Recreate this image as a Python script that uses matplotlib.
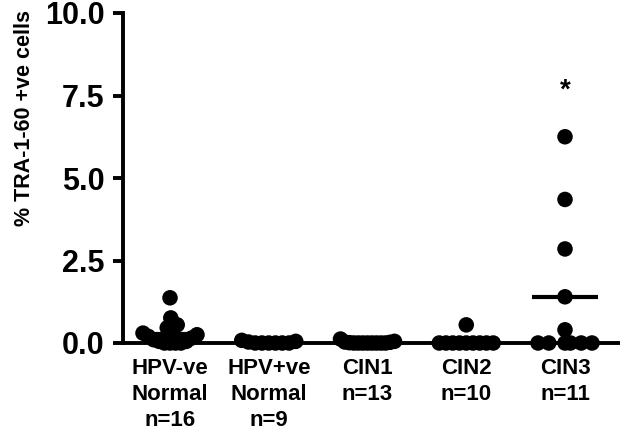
import numpy as np
import matplotlib
matplotlib.use('Agg')
import matplotlib.pyplot as plt

plt.rcParams['font.family'] = ['Liberation Sans', 'DejaVu Sans']

categories = ['HPV-ve\nNormal\nn=16', 'HPV+ve\nNormal\nn=9', 'CIN1\nn=13', 'CIN2\nn=10', 'CIN3\nn=11']
hpv_neg = [1.37, 0.76, 0.55, 0.46, 0.35, 0.30, 0.25, 0.20, 0.15, 0.10, 0.05, 0.05, 0.0, 0.0, 0.0, 0.0]
hpv_pos = [0.08, 0.05, 0.03, 0.0, 0.0, 0.0, 0.0, 0.0, 0.0]
cin1 = [0.12, 0.05, 0.03, 0.02, 0.01, 0.0, 0.0, 0.0, 0.0, 0.0, 0.0, 0.0, 0.0]
cin2 = [0.55, 0.0, 0.0, 0.0, 0.0, 0.0, 0.0, 0.0, 0.0, 0.0]
cin3 = [6.25, 4.35, 2.85, 1.40, 0.40, 0.0, 0.0, 0.0, 0.0, 0.0, 0.0]
groups = [hpv_neg, hpv_pos, cin1, cin2, cin3]
yticks = [0.0, 2.5, 5.0, 7.5, 10.0]
ylabel = '% TRA-1-60 +ve cells'
signif = {4: '*'}

W, H = 620, 446
fig = plt.figure(figsize=(W / 100, H / 100), dpi=100)
ax = fig.add_axes([123 / W, 103 / H, 497 / W, 330 / H])
xlim = (-0.476, 4.557)
ylim = (0, 10)
ax.set_xlim(*xlim)
ax.set_ylim(*ylim)

# pixel scale for swarm layout
px_x = 497 / (xlim[1] - xlim[0])
px_y = 330 / (ylim[1] - ylim[0])


def swarm(vals, d=13.0, maxhalf=27.0):
    vals = np.asarray(vals, float)
    order = np.argsort(vals, kind='stable')
    placed = []  # (xpix, ypix)
    offs = np.zeros(len(vals))
    for i in order:
        y = vals[i] * px_y
        cands = [0.0]
        for (xj, yj) in placed:
            dy = abs(y - yj)
            if dy < d:
                dx = np.sqrt(d * d - dy * dy)
                cands += [xj + dx + 1e-6, xj - dx - 1e-6]
        cands = sorted(cands, key=lambda c: (abs(c), -c))
        for c in cands:
            ok = all((c - xj) ** 2 + (y - yj) ** 2 >= d * d - 1e-6 for xj, yj in placed)
            if ok:
                offs[i] = c
                placed.append((c, y))
                break
    offs = offs - (offs.max() + offs.min()) / 2 * (np.abs(offs) > 0)
    m = np.max(np.abs(offs)) if len(offs) else 0
    if m > maxhalf:
        offs = offs * maxhalf / m
    return offs / px_x


for i, g in enumerate(groups):
    offs = swarm(g)
    ax.scatter(i + offs, g, s=125, color='black', edgecolor='none', zorder=3, clip_on=False)
    ax.hlines(np.mean(g), i - 0.33, i + 0.33, color='black', lw=3.0, zorder=4)

for i, s in signif.items():
    ax.text(i, 7.45, s, ha='center', va='baseline', fontsize=20, fontweight='bold')

for sp in ['top', 'right']:
    ax.spines[sp].set_visible(False)
for sp in ['left', 'bottom']:
    ax.spines[sp].set_linewidth(2.8)
    ax.spines[sp].set_capstyle('projecting')

ax.set_yticks(yticks)
ax.set_yticklabels([f'{t:.1f}' for t in yticks], fontsize=22, fontweight='bold')
ax.tick_params(axis='y', length=7.2, width=2.8, pad=6, direction='out')
ax.set_xticks(range(len(categories)))
ax.set_xticklabels(categories, fontsize=16, fontweight='bold', linespacing=1.3)
ax.tick_params(axis='x', length=0, pad=11)

fig.text(25 / W, 1 - 118 / H, ylabel, rotation=90, ha='center', va='center',
         fontsize=15.5, fontweight='bold')

fig.savefig('out.png', dpi=100)
